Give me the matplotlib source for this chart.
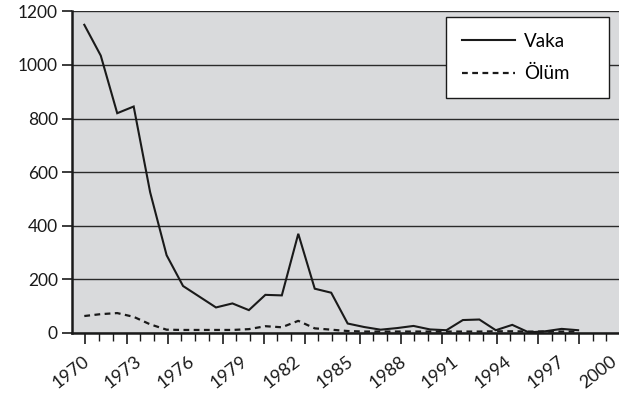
import matplotlib
matplotlib.use("Agg")
import matplotlib.pyplot as plt
import numpy as np

plt.rcParams['font.family'] = ['Lato', 'DejaVu Sans']

# ---- data ----
years = list(range(1970, 2001))
vaka = [1150, 1035, 820, 845, 525, 290, 175, 135, 95, 110,
        85, 142, 140, 370, 165, 150, 35, 22, 12, 18,
        26, 13, 10, 48, 50, 10, 30, 2, 6, 15, 10]
olum = [63, 70, 74, 60, 32, 12, 11, 11, 11, 11,
        14, 25, 21, 45, 17, 12, 7, 5, 5, 5,
        5, 5, 5, 5, 5, 6, 6, 5, 5, 5, 5]
label_years = list(range(1970, 2001, 3))
y_ticks = [0, 200, 400, 600, 800, 1000, 1200]

# ---- layout (pixels of a 619x396 figure) ----
W, H = 619, 396
left_px, right_px, top_px, bot_px = 71.7, 619, 11.4, 332.9
fig = plt.figure(figsize=(W / 100, H / 100), dpi=100)
ax = fig.add_axes([left_px / W, (H - bot_px) / H,
                   (right_px - left_px) / W, (bot_px - top_px) / H])

bg = '#d9dadc'
ax.set_facecolor(bg)

# data x scale: 1970 at px 84.3, 16.46 px per year
px_per_year = 16.46
x0 = 1970 - (84.3 - left_px) / px_per_year
x1 = 1970 + (right_px - 84.3) / px_per_year
ax.set_xlim(x0, x1)
ax.set_ylim(0, 1200)

ax.plot(years, vaka, color='#1a1a1a', lw=1.5, solid_joinstyle='miter', label='Vaka', zorder=3)
ax.plot(years, olum, color='#1a1a1a', lw=1.6, ls=(0, (2.6, 2.0)), label='Ölüm', zorder=3)

# grid
ax.set_yticks(y_ticks)
ax.yaxis.grid(True, color='#2a2a2a', lw=1.0)
ax.set_axisbelow(True)
ax.tick_params(axis='y', direction='out', length=7, width=1.2, pad=3,
               labelsize=12.5, colors='#1a1a1a')

for s in ['top', 'right']:
    ax.spines[s].set_visible(False)
for s in ['left', 'bottom']:
    ax.spines[s].set_linewidth(1.8)
    ax.spines[s].set_color('#1a1a1a')

# decorative tick marks on the x axis (as in the reference)
width_px = right_px - left_px
step_px = 13.71
n = int(width_px // step_px) + 1
tick_pos = [x0 + k * step_px / px_per_year for k in range(n)]
long_idx = [k for k in range(n) if k % 10 in (1, 4, 7)]
major = [tick_pos[k] for k in long_idx]
minor = [tick_pos[k] for k in range(1, n) if k not in long_idx]
ax.set_xticks(major)
ax.set_xticks(minor, minor=True)
ax.set_xticklabels([])
ax.tick_params(axis='x', which='major', direction='out', length=8, width=1.2, colors='#1a1a1a')
ax.tick_params(axis='x', which='minor', direction='out', length=5.5, width=1.0, colors='#1a1a1a')

# labels on a separate axis with their own spacing
lab = ax.twiny()
lab_px = 17.61
lab_anchor = 82.0
lab.set_xlim(1970 - (lab_anchor - left_px) / lab_px, 1970 + (right_px - lab_anchor) / lab_px)
lab.xaxis.set_ticks_position('bottom')
lab.xaxis.set_label_position('bottom')
lab.set_xticks(label_years)
lab.set_xticklabels([str(y) for y in label_years])
lab.tick_params(axis='x', length=0, pad=14.5, labelsize=13, colors='#1a1a1a')
for t in lab.get_xticklabels():
    t.set_rotation(38)
    t.set_rotation_mode('anchor')
    t.set_ha('right')
    t.set_va('top')
for s in lab.spines.values():
    s.set_visible(False)

# legend box: left 446px, right 609px, top 17px
ax_w = right_px - left_px
ax_h = bot_px - top_px
lx = (446 - left_px) / ax_w
lw_ = (609 - 446) / ax_w
ly_top = 1 - (17 - top_px) / ax_h
ly_bot = 1 - (92 - top_px) / ax_h
leg = ax.legend(loc='upper left', bbox_to_anchor=(lx, ly_bot, lw_, ly_top - ly_bot),
                mode='expand', fontsize=13.5,
                frameon=True, fancybox=False, framealpha=1, edgecolor='#1a1a1a',
                handlelength=2.85, handletextpad=0.45, borderpad=0.85, labelspacing=0.8,
                borderaxespad=0)
leg.get_frame().set_linewidth(1.0)
leg.set_zorder(5)

fig.savefig('out.png', dpi=100)
